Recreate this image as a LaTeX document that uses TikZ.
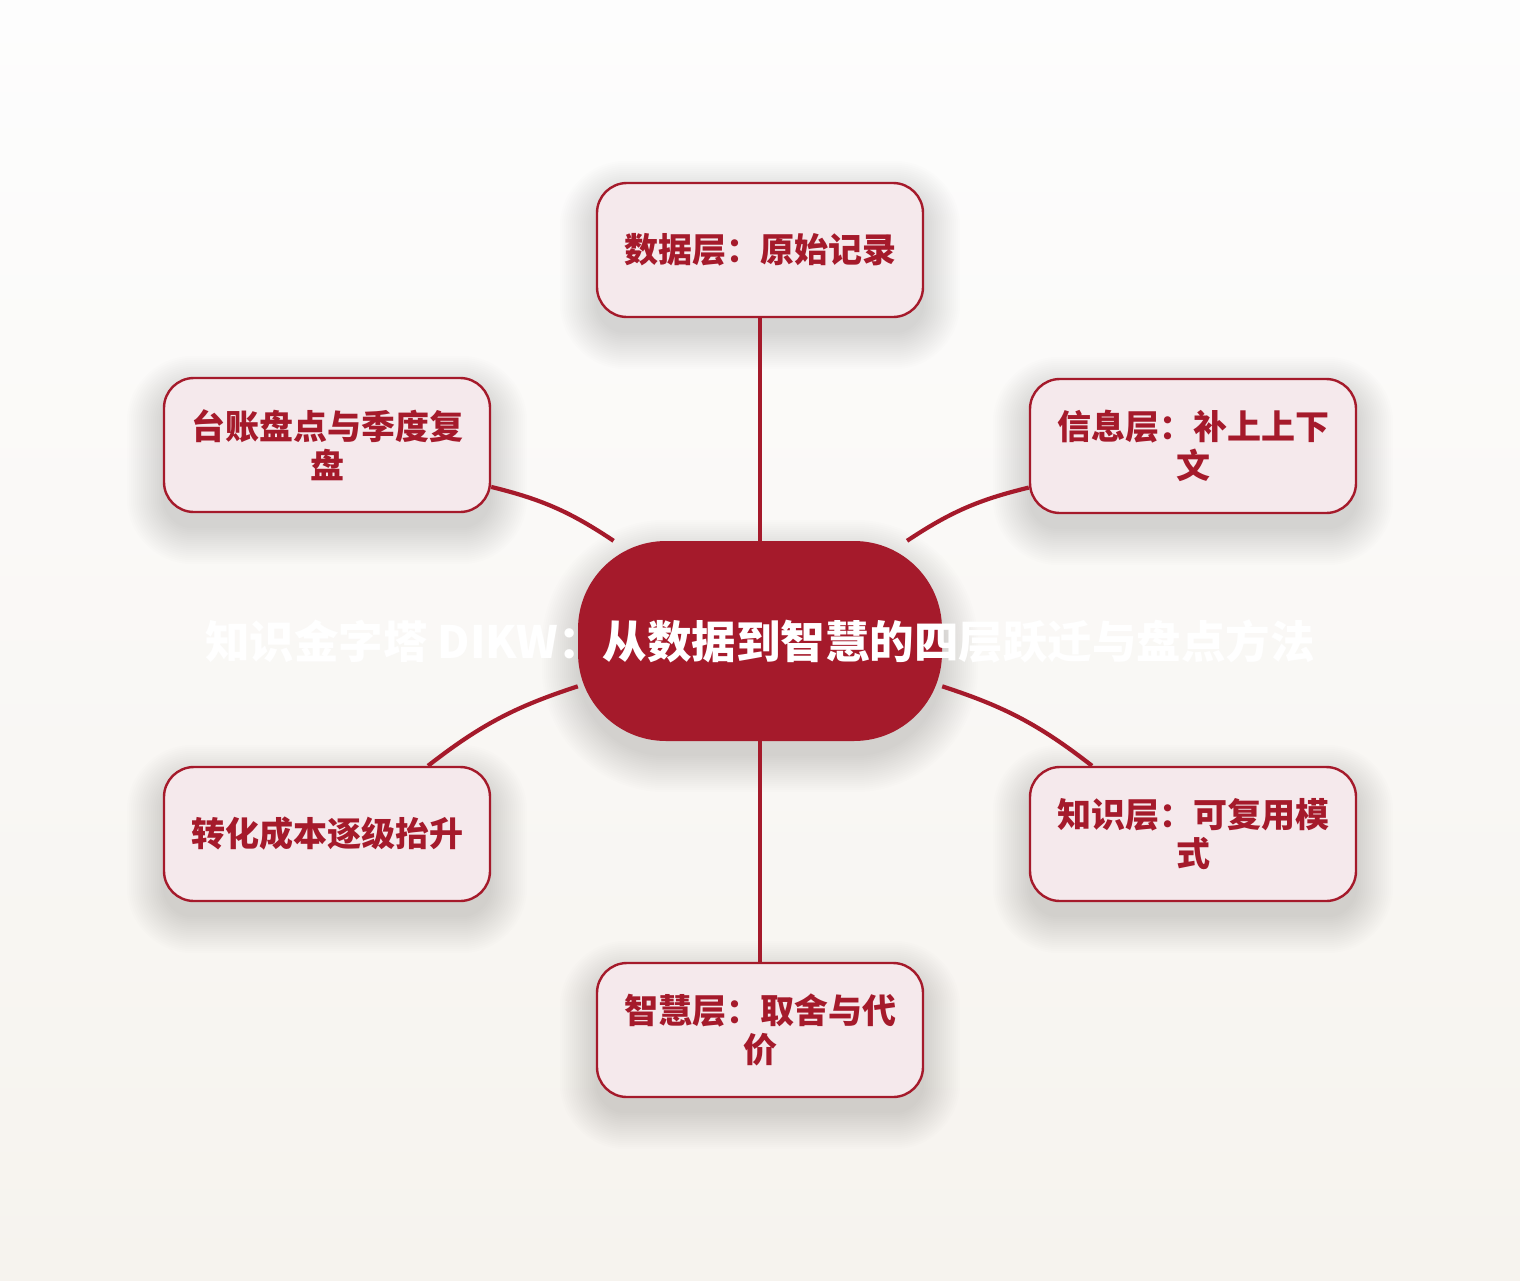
\documentclass[tikz,border=0pt]{standalone}
\usepackage{fontspec}
\newfontfamily\cjk{Noto Sans CJK SC}
\usetikzlibrary{backgrounds}
\definecolor{dikwred}{HTML}{A51A2B}
\definecolor{layerfill}{HTML}{F5E9EC}
\definecolor{pagetop}{HTML}{FDFDFD}
\definecolor{pagebottom}{HTML}{F6F3EE}
\pgfdeclarelayer{paper}
\pgfsetlayers{paper,background,main}
\tikzset{
  layerbox/.style={draw=dikwred, line width=2.4pt, fill=layerfill, rounded corners=30pt,
    minimum width=326pt, minimum height=134pt, inner sep=0pt, align=center, text=dikwred,
    font=\cjk\bfseries\fontsize{34}{39}\selectfont},
  hub/.style={fill=dikwred, rounded corners=88pt, minimum width=364pt, minimum height=200pt,
    inner sep=0pt, text=white, font=\cjk\bfseries\fontsize{44.5}{52}\selectfont},
  haze/.style={fill=black, opacity=0.0065},
  spoke/.style={draw=dikwred, line width=4.2pt}
}
\begin{document}
\begin{tikzpicture}[x=1pt, y=-1pt]
  \useasboundingbox (0,0) rectangle (1520,1280);
  \begin{pgfonlayer}{paper}
    \shade[top color=pagetop, bottom color=pagebottom] (0,0) rectangle (1520,1280);
  \end{pgfonlayer}
  % hub and layers
  \node[hub] (dikw) at (760,641) {\makebox[0pt][c]{知识金字塔 DIKW：从数据到智慧的四层跃迁与盘点方法}};
  \node[layerbox] (data) at (760,250) {数据层：原始记录};
  \node[layerbox] (info) at (1193,446) {信息层：补上上下\\文};
  \node[layerbox] (know) at (1193,834) {知识层：可复用模\\式};
  \node[layerbox] (wisdom) at (760,1030) {智慧层：取舍与代\\价};
  \node[layerbox] (cost) at (327,834) {转化成本逐级抬升};
  \node[layerbox] (audit) at (327,445) {台账盘点与季度复\\盘};
  \begin{pgfonlayer}{background}
    % soft shadows
    \foreach \n/\r in {dikw/88, data/30, info/30, know/30, wisdom/30, cost/30, audit/30}
      \foreach \g in {0,...,18} {
        \pgfmathsetmacro\rr{\r+\g*2}
        \fill[haze, rounded corners=\rr pt]
          ([xshift=-\g*2pt, yshift=-15pt+\g*2pt]\n.north west) rectangle
          ([xshift=\g*2pt, yshift=-15pt-\g*2pt]\n.south east);
      }
    % spokes
    \draw[spoke] (dikw) -- (data);
    \draw[spoke] (dikw) to[bend left=10] (info);
    \draw[spoke] (dikw) to[bend left=10] (know);
    \draw[spoke] (dikw) -- (wisdom);
    \draw[spoke] (dikw) to[bend right=10] (cost);
    \draw[spoke] (dikw) to[bend right=10] (audit);
  \end{pgfonlayer}
\end{tikzpicture}
\end{document}
